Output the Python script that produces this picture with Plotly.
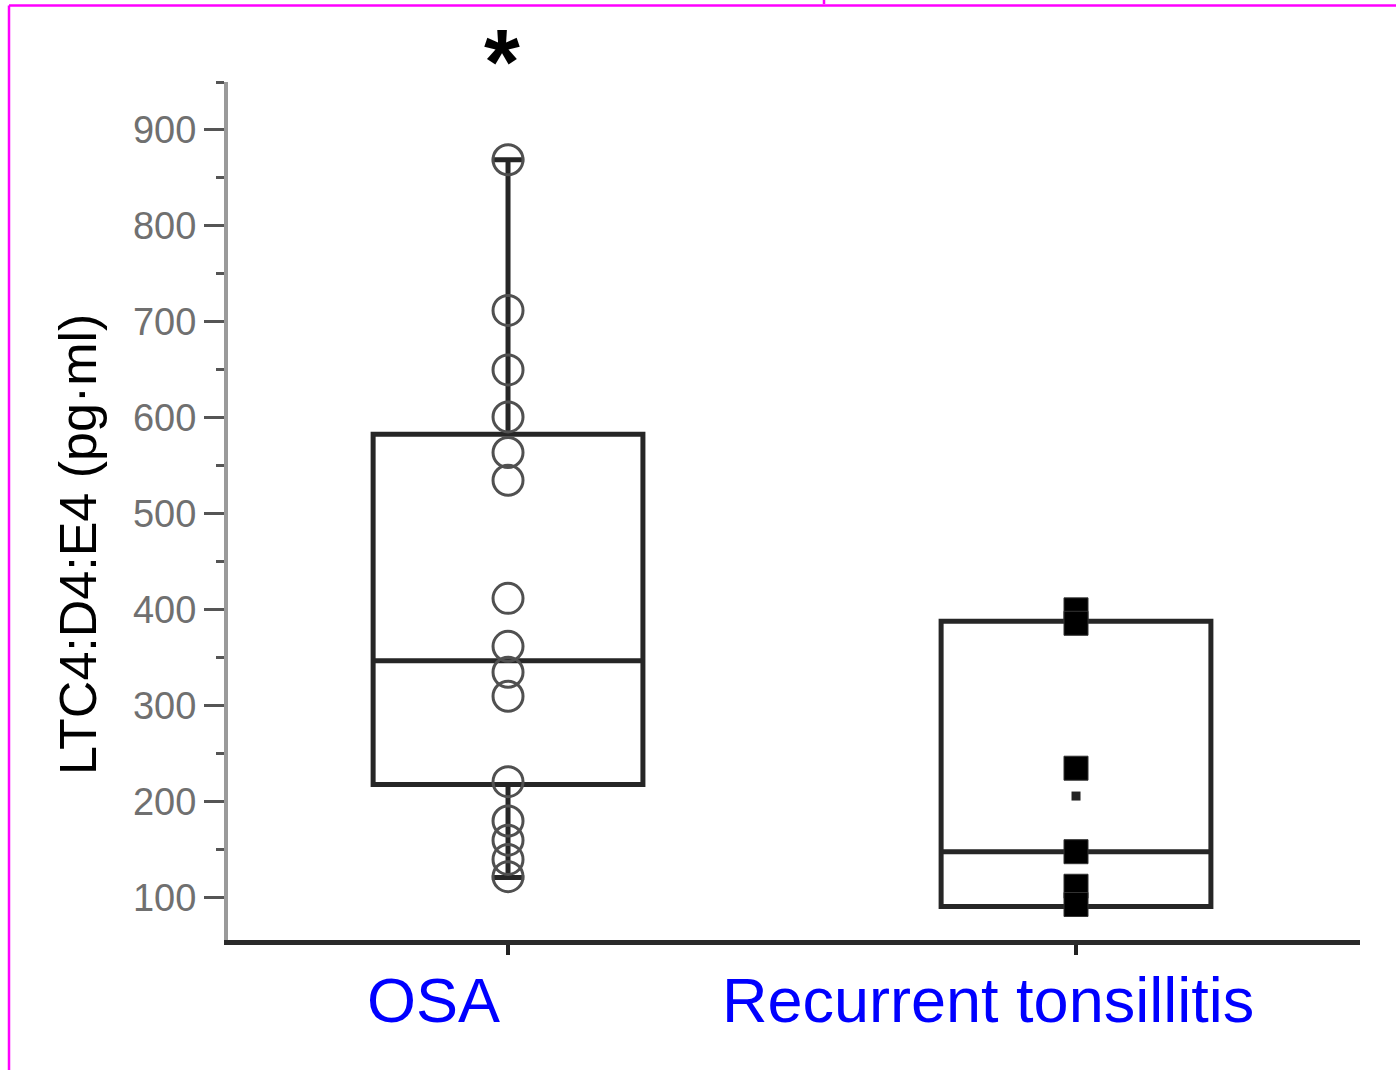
import plotly.graph_objects as go

# Groups and their x positions on a numeric axis
groups = ["OSA", "Recurrent tonsillitis"]
group_pos = [0, 1]

# Box summary statistics (pg/ml)
q1 = [218, 91]
median = [347, 148]
q3 = [583, 388]
lower_whisker = [121, 91]
upper_whisker = [869, 388]

# Individual measurements
osa_values = [869, 712, 650, 601, 564, 535, 412, 362, 335, 310, 221, 180, 160, 140, 122]
rt_values = [400, 386, 235, 148, 112, 93]
rt_mean = [206]

# Y axis ticks
y_major = [100, 200, 300, 400, 500, 600, 700, 800, 900]
y_minor = [150, 250, 350, 450, 550, 650, 750, 850, 950]

W, H = 1396, 1070
L, R, T, B = 228, 1360, 82, 940


def px_x(px):
    return (px - L) / (R - L)


def px_y(py):
    return (B - py) / (B - T)


fig = go.Figure()

for i in range(2):
    fig.add_trace(go.Box(
        x=[group_pos[i]], q1=[q1[i]], median=[median[i]], q3=[q3[i]],
        lowerfence=[lower_whisker[i]], upperfence=[upper_whisker[i]],
        width=0.475, whiskerwidth=0.12, boxpoints=False,
        line=dict(color="#262626", width=5),
        fillcolor="rgba(255,255,255,0)",
        showlegend=False, hoverinfo="skip",
    ))

fig.add_trace(go.Scatter(
    x=[group_pos[0]] * len(osa_values), y=osa_values, mode="markers",
    marker=dict(symbol="circle-open", size=30, color="#505050",
                line=dict(width=3, color="#505050")),
    showlegend=False, cliponaxis=False,
))
fig.add_trace(go.Scatter(
    x=[group_pos[1]] * len(rt_values), y=rt_values, mode="markers",
    marker=dict(symbol="square", size=24, color="#000000",
                line=dict(width=1, color="#333333")),
    showlegend=False, cliponaxis=False,
))
fig.add_trace(go.Scatter(
    x=[group_pos[1]], y=rt_mean, mode="markers",
    marker=dict(symbol="square", size=9, color="#222222"),
    showlegend=False,
))

fig.update_layout(
    width=W, height=H,
    margin=dict(l=L, r=W - R, t=T, b=H - B),
    paper_bgcolor="white", plot_bgcolor="white",
    font=dict(family="Liberation Sans, Arial, sans-serif"),
    xaxis=dict(
        range=[-0.493, 1.5], tickvals=group_pos, showticklabels=False,
        ticks="outside", ticklen=10, tickwidth=4, tickcolor="#222",
        showline=True, linecolor="#2a2a2a", linewidth=5,
        showgrid=False, zeroline=False,
    ),
    yaxis=dict(
        range=[56, 950], tickvals=y_major, ticktext=[str(v) for v in y_major],
        ticks="outside", ticklen=20, tickwidth=3, tickcolor="#555",
        tickfont=dict(size=38, color="#707070"),
        showline=True, linecolor="#9a9a9a", linewidth=4,
        showgrid=False, zeroline=False,
        minor=dict(tickvals=y_minor, ticks="outside", ticklen=8,
                   tickwidth=3, tickcolor="#555"),
    ),
)

# Category labels under the axis
for name, xc in zip(groups, [-0.132, 0.845]):
    fig.add_annotation(
        x=xc, xref="x", y=px_y(1000), yref="paper",
        text=name, showarrow=False, xanchor="center", yanchor="middle",
        font=dict(size=63, color="#0000ff"),
    )

# Y axis title
fig.add_annotation(
    x=px_x(78), xref="paper", y=px_y(545), yref="paper",
    text="LTC4:D4:E4 (pg·ml)", textangle=-90, showarrow=False,
    xanchor="center", yanchor="middle",
    font=dict(size=52, color="#000000"),
)

# Significance mark above the OSA group
fig.add_annotation(
    x=-0.01, xref="x", y=px_y(62), yref="paper",
    text="<b>*</b>", showarrow=False, xanchor="center", yanchor="middle",
    font=dict(size=92, color="#000000"),
)

# Magenta frame lines
frame = dict(color="#ff00ff", width=2.5)
fig.add_shape(type="line", xref="paper", yref="paper",
              x0=px_x(9), x1=px_x(1396), y0=px_y(5.5), y1=px_y(5.5), line=frame)
fig.add_shape(type="line", xref="paper", yref="paper",
              x0=px_x(9), x1=px_x(9), y0=px_y(5.5), y1=px_y(1070), line=frame)
fig.add_shape(type="line", xref="paper", yref="paper",
              x0=px_x(824), x1=px_x(824), y0=px_y(0), y1=px_y(4), line=frame)

fig.write_html("out.html")
